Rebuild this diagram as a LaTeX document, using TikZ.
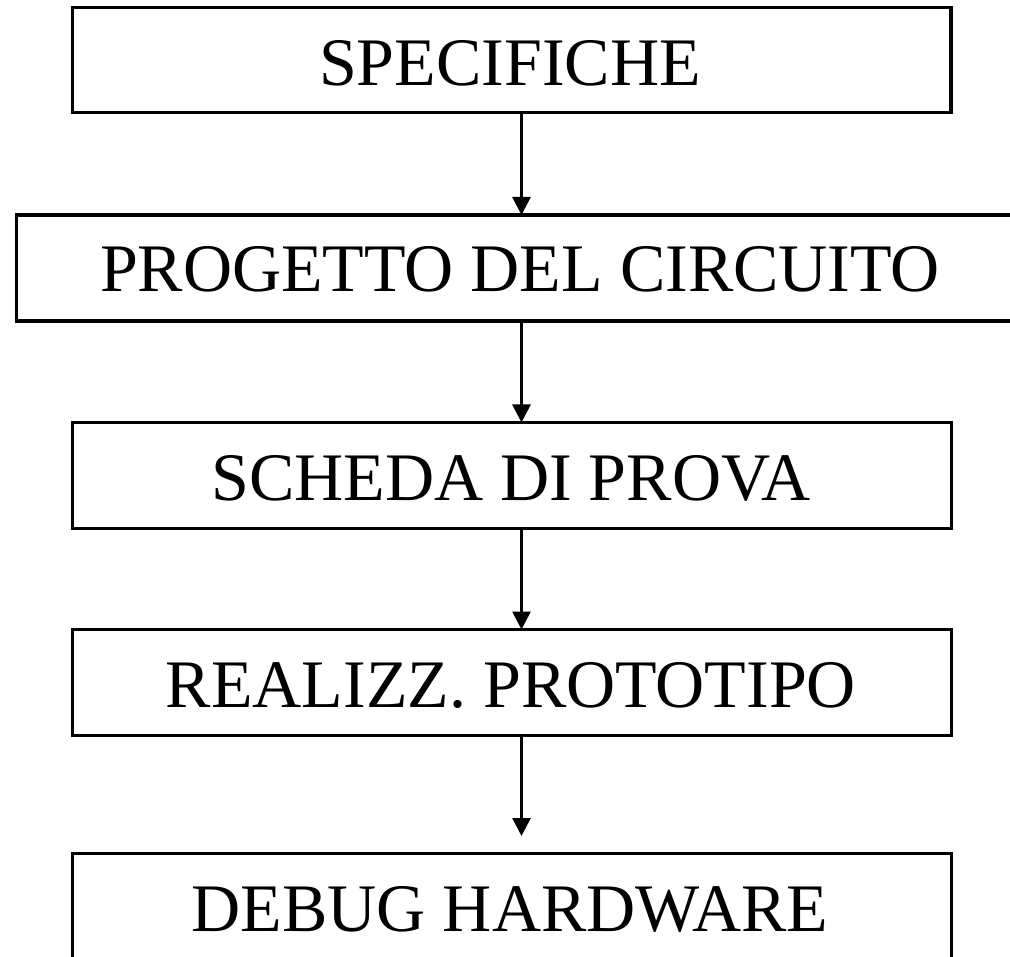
\documentclass[tikz,border=0pt]{standalone}
\usepackage{fontspec}
\setmainfont{Liberation Serif}
\usetikzlibrary{arrows.meta}
\begin{document}
\begin{tikzpicture}[x=1pt,y=-1pt,
  stage/.style={draw,line width=3.4pt,minimum width=878.5pt,minimum height=106pt,inner sep=0pt,outer sep=0pt},
  caption/.style={anchor=base,inner sep=0pt,font=\fontsize{68}{70}\selectfont},
  flow/.style={line width=2.8pt,-{Triangle[length=18pt,width=18pt]}}]
\useasboundingbox (0,0) rectangle (1010,957);
% process stages, top to bottom
\node[stage,minimum height=105pt] (s1) at (511.75,60) {};
\node[stage,minimum width=995.5pt] (s2) at (514.25,268) {};
\node[stage] (s3) at (512,475.5) {};
\node[stage] (s4) at (512,682.5) {};
\node[stage] (s5) at (512,906.5) {};
% stage captions
\node[caption] (t1) at (510,86) {SPECIFICHE};
\node[caption] (t2) at (520,292) {PROGETTO DEL CIRCUITO};
\node[caption] (t3) at (511,500.5) {SCHEDA DI PROVA};
\node[caption] (t4) at (511,707.5) {REALIZZ. PROTOTIPO};
\node[caption] (t5) at (510,931) {DEBUG HARDWARE};
% flow between stages
\coordinate (a1) at (521.5,112.5);
\coordinate (a2) at (521.5,321);
\coordinate (a3) at (521.5,528.5);
\coordinate (a4) at (521.5,735.5);
\coordinate (e4) at (521.5,836);
\draw[flow] (a1) -- (a1 |- s2.north);
\draw[flow] (a2) -- (a2 |- s3.north);
\draw[flow] (a3) -- (a3 |- s4.north);
\draw[flow] (a4) -- (e4);
\end{tikzpicture}
\end{document}
